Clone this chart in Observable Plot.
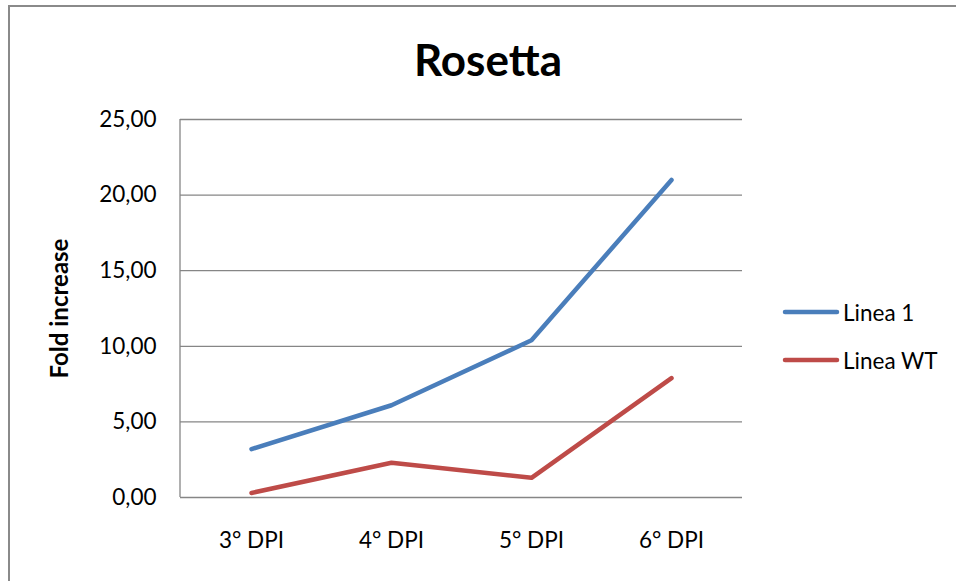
<!DOCTYPE html>
<html>
<head>
<meta charset="utf-8">
<script src="https://cdn.jsdelivr.net/npm/d3@7"></script>
<script src="https://cdn.jsdelivr.net/npm/@observablehq/plot@0.6"></script>
<style>
  html, body { margin: 0; padding: 0; background: #fff; overflow: hidden; }
  #wrap { position: relative; width: 956px; height: 581px; font-family: Lato, "Open Sans", sans-serif; }
  #frame { position: absolute; left: 8px; top: 5px; width: 2000px; height: 2000px; border-left: 2px solid #8a8a8a; border-top: 2px solid #8a8a8a; pointer-events: none; }
  #title { height: 100px; box-sizing: border-box; padding-left: 20px; text-align: center; font-weight: bold; font-size: 44px; line-height: 118px; color: #000; }
  #legend { position: absolute; left: 782px; top: 288px; font-size: 22.5px; color: #000; }
  .item { display: flex; align-items: center; height: 48px; }
  .item svg { margin-right: 3px; }
</style>
</head>
<body>
<div id="wrap">
  <div id="frame"></div>
  <div id="title">Rosetta</div>
  <div id="chart"></div>
  <div id="legend"></div>
</div>
<script>
const categories = ["3° DPI", "4° DPI", "5° DPI", "6° DPI"];
const linea1 = [3.2, 6.1, 10.4, 21.0];
const lineaWT = [0.3, 2.3, 1.3, 7.9];
const seriesNames = ["Linea 1", "Linea WT"];
const seriesColors = ["#4a7ebb", "#be4b48"];
const yTicks = [0, 5, 10, 15, 20, 25];

const data = [
  ...categories.map((c, i) => ({cat: c, value: linea1[i], series: seriesNames[0]})),
  ...categories.map((c, i) => ({cat: c, value: lineaWT[i], series: seriesNames[1]}))
];

const fmt = d => d.toFixed(2).replace(".", ",");

const chart = Plot.plot({
  width: 956,
  height: 481,
  marginLeft: 180,
  marginRight: 214,
  marginTop: 19,
  marginBottom: 84,
  style: {fontFamily: "Lato, 'Open Sans', sans-serif", fontSize: "22px", color: "#000", background: "#fff"},
  x: {type: "point", domain: categories, padding: 0.5, label: null},
  y: {domain: [0, 25], label: null},
  color: {domain: seriesNames, range: seriesColors},
  marks: [
    Plot.ruleY(yTicks, {stroke: "#868686", strokeWidth: 1.3}),
    Plot.axisY({ticks: yTicks, tickFormat: fmt, tickSize: 0, tickPadding: 24, fontSize: 22.5, fill: "#000"}),
    Plot.axisX({tickSize: 0, tickPadding: 35, fontSize: 22.5, fill: "#000"}),
    Plot.text(["Fold increase"], {frameAnchor: "left", dx: -120, rotate: -90, textAnchor: "middle", fontWeight: "bold", fontSize: 24, fill: "#000"}),
    Plot.line(data, {x: "cat", y: "value", z: "series", stroke: "series", strokeWidth: 4.5, strokeLinecap: "round", strokeLinejoin: "round"})
  ]
});

// left axis line along the frame edge, from the library's scales
const xr = chart.scale("x").range;
const yr = chart.scale("y").range;
d3.select(chart).append("line")
  .attr("x1", xr[0]).attr("x2", xr[0])
  .attr("y1", yr[0]).attr("y2", yr[1])
  .attr("stroke", "#868686").attr("stroke-width", 1.3);

document.getElementById("chart").appendChild(chart);

const legend = document.getElementById("legend");
seriesNames.forEach((name, i) => {
  const item = document.createElement("div");
  item.className = "item";
  item.innerHTML = `<svg width="58" height="8"><line x1="3" y1="4" x2="55" y2="4" stroke="${seriesColors[i]}" stroke-width="4.5" stroke-linecap="round"/></svg><span>${name}</span>`;
  legend.appendChild(item);
});
</script>
</body>
</html>
